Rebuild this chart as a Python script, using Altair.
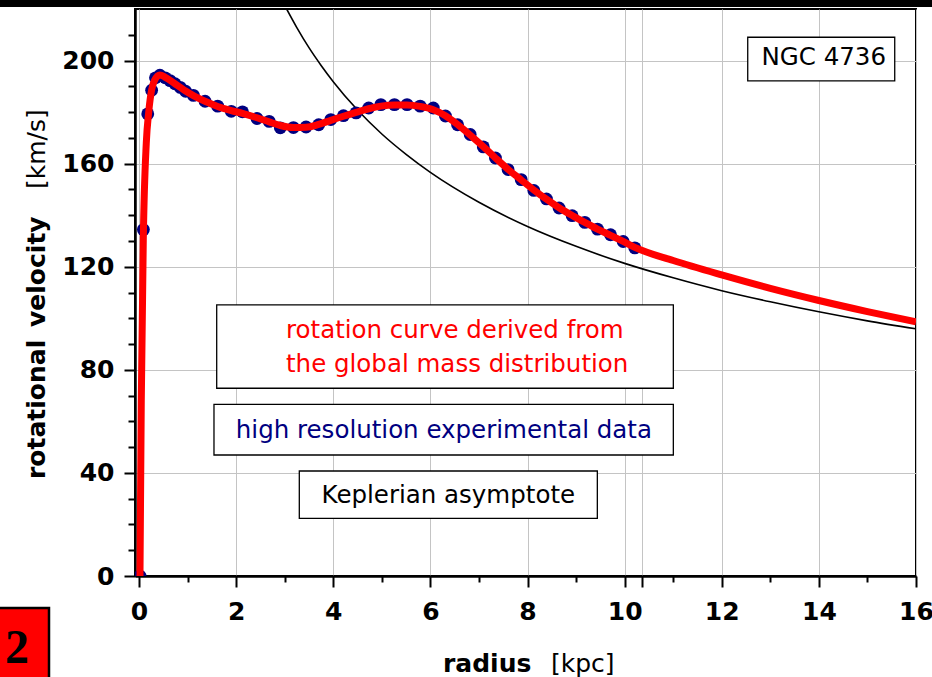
import altair as alt
import pandas as pd

# ---------------- data ----------------
obs_r = [0.02, 0.09, 0.18, 0.26, 0.34, 0.43, 0.54, 0.64, 0.74, 0.85, 0.96, 1.12, 1.36,
         1.62, 1.90, 2.13, 2.43, 2.68, 2.91, 3.18, 3.44, 3.70, 3.95, 4.21, 4.47, 4.73,
         4.98, 5.26, 5.52, 5.79, 6.06, 6.31, 6.56, 6.82, 7.09, 7.34, 7.60, 7.87, 8.13,
         8.39, 8.65, 8.92, 9.18, 9.44, 9.71, 9.97, 10.21]
obs_v = [0.0, 134.4, 179.3, 188.5, 193.3, 194.3, 193.3, 192.2, 191.0, 189.6, 188.1, 186.5, 184.2,
         182.3, 180.3, 180.1, 177.5, 176.4, 173.9, 174.0, 174.2, 175.1, 177.1, 178.6, 179.7, 181.6,
         182.9, 182.9, 182.9, 182.3, 181.6, 178.5, 175.1, 171.3, 166.5, 162.2, 157.7, 153.8, 149.6,
         146.3, 142.8, 139.8, 137.2, 134.6, 132.4, 129.8, 127.3]

fit_r = [0.02, 0.047, 0.088, 0.15, 0.20, 0.26, 0.32, 0.43, 0.54, 0.64, 0.74, 0.85, 0.96, 1.12,
         1.36, 1.62, 1.90, 2.13, 2.43, 2.68, 2.91, 3.18, 3.44, 3.70, 3.95, 4.21, 4.47, 4.73,
         4.98, 5.26, 5.52, 5.79, 6.06, 6.31, 6.56, 6.82, 7.09, 7.34, 7.60, 7.87, 8.13, 8.39,
         8.65, 8.92, 9.18, 9.44, 9.71, 9.97, 10.21, 11.0, 12.0, 13.0, 14.0, 15.0, 16.0]
fit_v = [0.0, 68.0, 130.0, 168.0, 180.0, 188.6, 192.3, 194.4, 193.5, 192.3, 191.0, 189.6, 188.2, 186.4,
         184.2, 182.2, 180.6, 179.5, 177.8, 176.2, 174.8, 174.0, 174.1, 175.2, 176.8, 178.4, 179.9, 181.3,
         182.3, 182.8, 182.8, 182.2, 180.9, 178.6, 175.2, 171.1, 166.6, 162.2, 157.8, 153.7, 149.8, 146.2,
         142.9, 139.9, 137.2, 134.6, 132.2, 129.8, 127.5, 122.4, 116.8, 111.6, 106.9, 102.6, 98.6]

kep_r = [3.04, 3.25, 3.5, 3.75, 4.0, 4.5, 5.0, 5.5, 6.0, 7.0, 8.0, 9.0, 10.0, 11.0, 12.0,
         13.0, 14.0, 15.0, 16.0]
kep_v = [220.0, 212.8, 205.0, 198.1, 191.8, 180.8, 171.5, 163.6, 156.6, 145.0, 135.6, 127.9,
         121.3, 115.7, 110.7, 106.4, 102.5, 99.0, 95.9]

x_major = [0, 2, 4, 6, 8, 10, 12, 14, 16, 10.36]
x_minor = [1, 3, 5, 7, 9, 11, 13, 15]
y_major = [0, 40, 80, 120, 160, 200]
y_minor = [10, 20, 30, 50, 60, 70, 90, 100, 110, 130, 140, 150, 170, 180, 190, 210]

box_x1 = [12.535, 1.600, 1.544, 3.301]
box_x2 = [15.562, 11.003, 11.003, 9.438]
box_y1 = [209.04, 105.16, 66.63, 40.74]
box_y2 = [192.08, 72.84, 46.95, 22.39]

left_text = ["rotation curve derived from", "the global mass distribution"]
left_x = [3.027, 3.027]
left_y = [92.24, 79.28]
left_col = ["#ff0000", "#ff0000"]

ctr_text = ["NGC 4736", "high resolution experimental data", "Keplerian asymptote"]
ctr_x = [14.1, 6.278, 6.369]
ctr_y = [198.29, 53.67, 28.21]
ctr_col = ["#000000", "#000080", "#000000"]

# ---------------- tables ----------------
obs = pd.DataFrame({"r": obs_r, "v": obs_v})
fit = pd.DataFrame({"r": fit_r, "v": fit_v})
kep = pd.DataFrame({"r": kep_r, "v": kep_v})
boxes = pd.DataFrame({"x1": box_x1, "x2": box_x2, "y1": box_y1, "y2": box_y2})
ltxt = pd.DataFrame({"t": left_text, "r": left_x, "v": left_y, "c": left_col})
ctxt = pd.DataFrame({"t": ctr_text, "r": ctr_x, "v": ctr_y, "c": ctr_col})
one = pd.DataFrame({"k": [0]})

xs = alt.Scale(domain=[-0.0824, 16], nice=False, zero=False)
ys = alt.Scale(domain=[0, 220], nice=False, zero=False)

FONT = "DejaVu Sans"

# Keplerian line carries the main axes
kep_layer = alt.Chart(kep).mark_line(color="black", strokeWidth=1.6, clip=True,
                                     interpolate="monotone").encode(
    x=alt.X("r:Q", scale=xs, axis=alt.Axis(
        values=x_major, title=None, orient="bottom", grid=True, tickSize=11,
        labelPadding=12, labelFlush=False, labelOverlap=False,
        labelExpr="datum.value % 2 == 0 ? datum.label : ''")),
    y=alt.Y("v:Q", scale=ys, axis=alt.Axis(
        values=y_major, title=None, orient="left", grid=True, tickSize=11,
        labelPadding=10, labelFlush=False, labelOverlap=False)),
)

# observed points carry the minor-tick axes
obs_layer = alt.Chart(obs).mark_circle(color="#000080", size=165, opacity=1, clip=True).encode(
    x=alt.X("r:Q", scale=xs, axis=alt.Axis(
        values=x_minor, title=None, orient="bottom", grid=False, tickSize=6,
        labels=False, domain=False)),
    y=alt.Y("v:Q", scale=ys, axis=alt.Axis(
        values=y_minor, title=None, orient="left", grid=False, tickSize=7,
        labels=False, domain=False)),
)

fit_layer = alt.Chart(fit).mark_line(color="#ff0000", strokeWidth=7, clip=True,
                                     interpolate="monotone").encode(
    x=alt.X("r:Q", scale=xs, axis=None),
    y=alt.Y("v:Q", scale=ys, axis=None),
)

box_layer = alt.Chart(boxes).mark_rect(fill="white", stroke="black", strokeWidth=1.3).encode(
    x=alt.X("x1:Q", scale=xs, axis=None), x2="x2:Q",
    y=alt.Y("y1:Q", scale=ys, axis=None), y2="y2:Q",
)

ltxt_layer = alt.Chart(ltxt).mark_text(font=FONT, fontSize=24.5, align="left",
                                       baseline="alphabetic").encode(
    x=alt.X("r:Q", scale=xs, axis=None),
    y=alt.Y("v:Q", scale=ys, axis=None),
    text="t:N",
    color=alt.Color("c:N", scale=None),
)

ctxt_layer = alt.Chart(ctxt).mark_text(font=FONT, fontSize=24.5, align="center",
                                       baseline="alphabetic").encode(
    x=alt.X("r:Q", scale=xs, axis=None),
    y=alt.Y("v:Q", scale=ys, axis=None),
    text="t:N",
    color=alt.Color("c:N", scale=None),
)

# decorations outside the plot area (pixel positions relative to plot origin)
top_bar = alt.Chart(one).mark_rect(color="black").encode(
    x=alt.value(-135), x2=alt.value(797), y=alt.value(-9), y2=alt.value(-2))

num_box = alt.Chart(one).mark_rect(fill="#ff0000", stroke="black", strokeWidth=2.5).encode(
    x=alt.value(-137), x2=alt.value(-86), y=alt.value(599), y2=alt.value(675))
num_txt = alt.Chart(one).mark_text(text="2", font="Liberation Serif", fontWeight="bold",
                                   fontSize=48, align="center", baseline="alphabetic",
                                   color="black").encode(
    x=alt.value(-118), y=alt.value(654))

xt1 = alt.Chart(one).mark_text(text="radius", font=FONT, fontWeight="bold", fontSize=25,
                               align="left", baseline="alphabetic", color="black").encode(
    x=alt.value(308), y=alt.value(663))
xt2 = alt.Chart(one).mark_text(text="[kpc]", font=FONT, fontWeight="normal", fontSize=25,
                               align="left", baseline="alphabetic", color="black").encode(
    x=alt.value(416), y=alt.value(663))

yt1 = alt.Chart(one).mark_text(text="rotational", font=FONT, fontWeight="bold", fontSize=25,
                               align="left", baseline="alphabetic", angle=270,
                               color="black").encode(
    x=alt.value(-90), y=alt.value(470))
yt2 = alt.Chart(one).mark_text(text="velocity", font=FONT, fontWeight="bold", fontSize=25,
                               align="left", baseline="alphabetic", angle=270,
                               color="black").encode(
    x=alt.value(-90), y=alt.value(318))
yt3 = alt.Chart(one).mark_text(text="[km/s]", font=FONT, fontWeight="normal", fontSize=25,
                               align="left", baseline="alphabetic", angle=270,
                               color="black").encode(
    x=alt.value(-90), y=alt.value(180))

chart = alt.layer(
    kep_layer, obs_layer, fit_layer, box_layer, ltxt_layer, ctxt_layer,
    top_bar, num_box, num_txt, xt1, xt2, yt1, yt2, yt3,
).resolve_axis(
    x="independent", y="independent"
).properties(
    width=781, height=567,
    autosize=alt.AutoSizeParams(type="none"),
    padding={"left": 135, "top": 9, "right": 16, "bottom": 101},
    background="white",
).configure_view(
    stroke="black", strokeWidth=2
).configure_axis(
    labelFont=FONT, labelFontWeight="bold", labelFontSize=25, labelColor="black",
    tickColor="black", tickWidth=2, domainColor="black", domainWidth=2.5,
    gridColor="#c4c4c4", gridWidth=1,
)

chart.save("out.html", embed_options={"renderer": "svg", "actions": False})
